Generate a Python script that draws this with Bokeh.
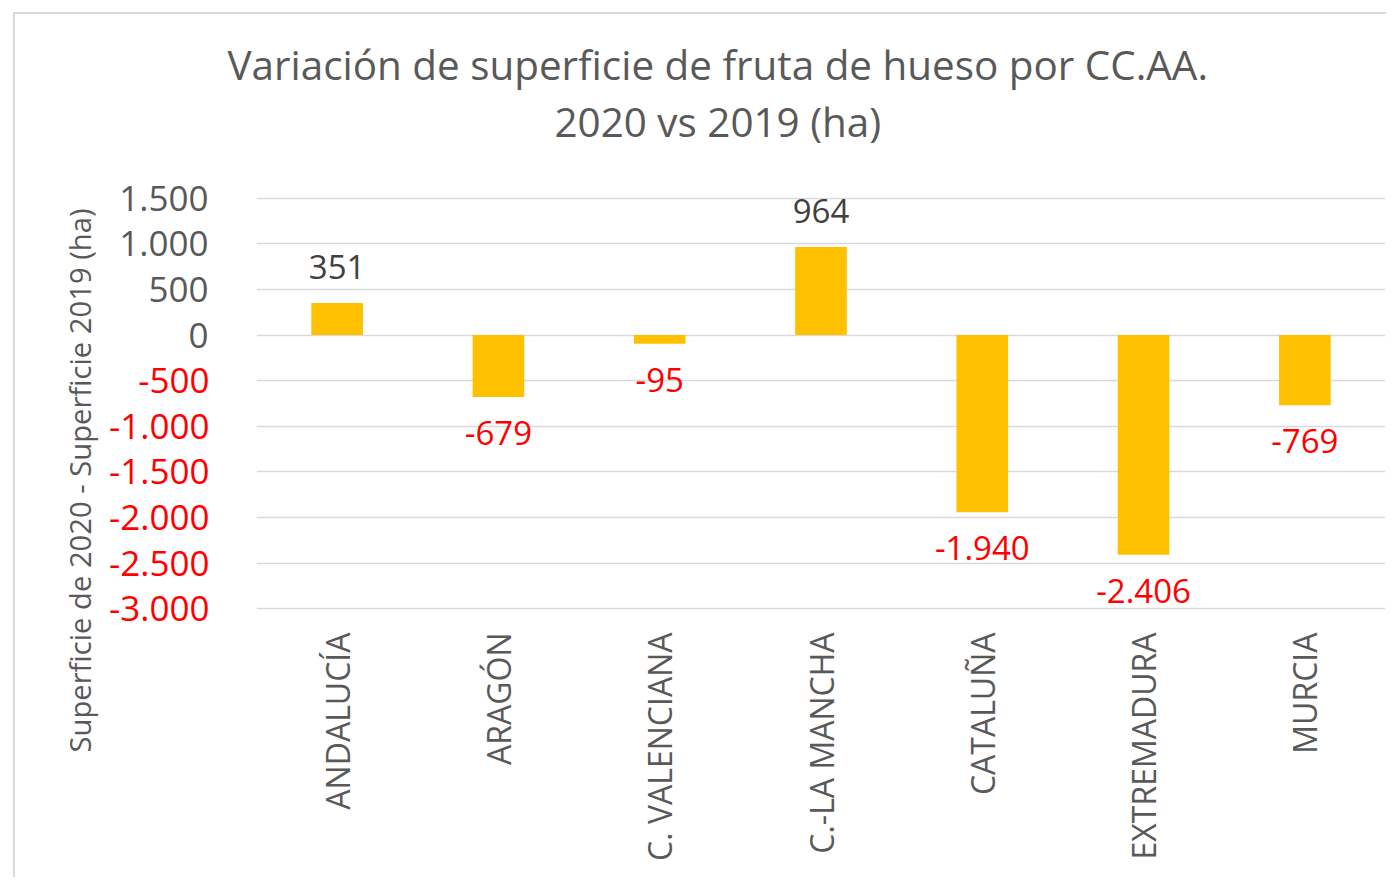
import math
from bokeh.plotting import figure
from bokeh.models import (ColumnDataSource, FactorRange, Range1d, LabelSet, Title,
                          FixedTicker, CustomJSTickFormatter, LinearAxis)
from bokeh.embed import file_html
from bokeh.resources import INLINE
from bokeh.core.properties import value

# ---- data ----
regions = ["ANDALUCÍA", "ARAGÓN", "C. VALENCIANA", "C.-LA MANCHA",
           "CATALUÑA", "EXTREMADURA", "MURCIA"]
variation = [351, -679, -95, 964, -1940, -2406, -769]
y_ticks = [-3000, -2500, -2000, -1500, -1000, -500, 0, 500, 1000, 1500]
title_lines = ["Variación de superficie de fruta de hueso por CC.AA.",
               "2020 vs 2019 (ha)"]
y_label = "Superficie de 2020 - Superficie 2019 (ha)"

y_min, y_max = y_ticks[0], y_ticks[-1]

GREY = "#595959"
RED = "#FF0000"
BAR = "#FFC000"
FONT = "Open Sans"


def fmt(v):
    s = f"{abs(v):,}".replace(",", ".")
    return ("-" if v < 0 else "") + s


FMT_JS = 'return (tick < 0 ? "-" : "") + Math.abs(tick).toFixed(0).replace(/\\B(?=(\\d{3})+(?!\\d))/g, ".");'

p = figure(x_range=FactorRange(*regions), y_range=Range1d(y_min - 6, y_max + 6),
           frame_width=1129, frame_height=412,
           min_border_left=241, min_border_right=1,
           min_border_top=183, min_border_bottom=268,
           output_backend="svg", toolbar_location=None)
p.title.visible = False
p.outline_line_color = None
p.background_fill_color = "white"
p.border_fill_color = "white"
# chart frame border (only top/left fall inside the window)
p.styles = {"margin-left": "13px", "margin-top": "12px",
            "border-left": "2px solid #d9d9d9", "border-top": "2px solid #d9d9d9"}

# grid
p.xgrid.visible = False
p.ygrid.ticker = FixedTicker(ticks=y_ticks)
p.ygrid.grid_line_color = "#d9d9d9"
p.ygrid.grid_line_width = 1.5


def style_axis(ax, color, standoff):
    ax.axis_line_color = None
    ax.major_tick_line_color = None
    ax.minor_tick_line_color = None
    ax.major_tick_out = 0
    ax.major_tick_in = 0
    ax.major_label_standoff = standoff
    ax.major_label_text_font = FONT
    ax.major_label_text_font_size = "35px"
    ax.major_label_text_color = color


# y axis: non-negative ticks in grey
pos_ticks = [t for t in y_ticks if t >= 0]
neg_ticks = [t for t in y_ticks if t < 0]
p.yaxis.ticker = FixedTicker(ticks=pos_ticks)
p.yaxis.formatter = CustomJSTickFormatter(code=FMT_JS)
style_axis(p.yaxis[0], GREY, 48)

# second y axis: negative ticks in red, overlapping the first one
yaxis_neg = LinearAxis(ticker=FixedTicker(ticks=neg_ticks),
                       formatter=CustomJSTickFormatter(code=FMT_JS))
style_axis(yaxis_neg, RED, -93)
p.add_layout(yaxis_neg, "left")

# y axis title
p.add_layout(Title(text=y_label, align="left", offset=-143, standoff=11,
                   text_font=FONT, text_font_size="29.2px", text_font_style="normal",
                   text_color=GREY), "left")

# x axis
p.xaxis.axis_line_color = None
p.xaxis.major_tick_line_color = None
p.xaxis.minor_tick_line_color = None
p.xaxis.major_tick_out = 0
p.xaxis.major_tick_in = 0
p.xaxis.major_label_orientation = math.pi / 2
p.xaxis.major_label_standoff = 23
p.xaxis.major_label_text_font = FONT
p.xaxis.major_label_text_font_size = "32px"
p.xaxis.major_label_text_color = GREY

# bars
src = ColumnDataSource(dict(region=regions, value=variation))
p.vbar(x="region", top="value", bottom=0, width=0.32, source=src,
       fill_color=BAR, line_color=None)

# data labels
pos = [(r, v) for r, v in zip(regions, variation) if v >= 0]
neg = [(r, v) for r, v in zip(regions, variation) if v < 0]
pos_src = ColumnDataSource(dict(region=[r for r, _ in pos], value=[v for _, v in pos],
                                text=[fmt(v) for _, v in pos]))
neg_src = ColumnDataSource(dict(region=[r for r, _ in neg], value=[v for _, v in neg],
                                text=[fmt(v) for _, v in neg]))
p.add_layout(LabelSet(x="region", y="value", text="text", source=pos_src,
                      y_offset=24, text_align="center", text_baseline="alphabetic",
                      text_font=value(FONT), text_font_size=value("33px"),
                      text_color="#404040"))
p.add_layout(LabelSet(x="region", y="value", text="text", source=neg_src,
                      y_offset=-48, text_align="center", text_baseline="alphabetic",
                      text_font=value(FONT), text_font_size=value("33px"),
                      text_color=RED))

# chart title: spacer + two lines, both centred on the same point
p.add_layout(Title(text=" ", standoff=20, text_font=FONT, text_font_size="20px",
                   text_color="white"), "above")
p.add_layout(Title(text=title_lines[1], align="left", offset=298, standoff=0,
                   text_font=FONT, text_font_size="40.4px", text_font_style="normal",
                   text_color=GREY), "above")
p.add_layout(Title(text=title_lines[0], align="left", offset=-29, standoff=0,
                   text_font=FONT, text_font_size="40.4px", text_font_style="normal",
                   text_color=GREY), "above")

open("out.html", "w").write(file_html(p, INLINE))
